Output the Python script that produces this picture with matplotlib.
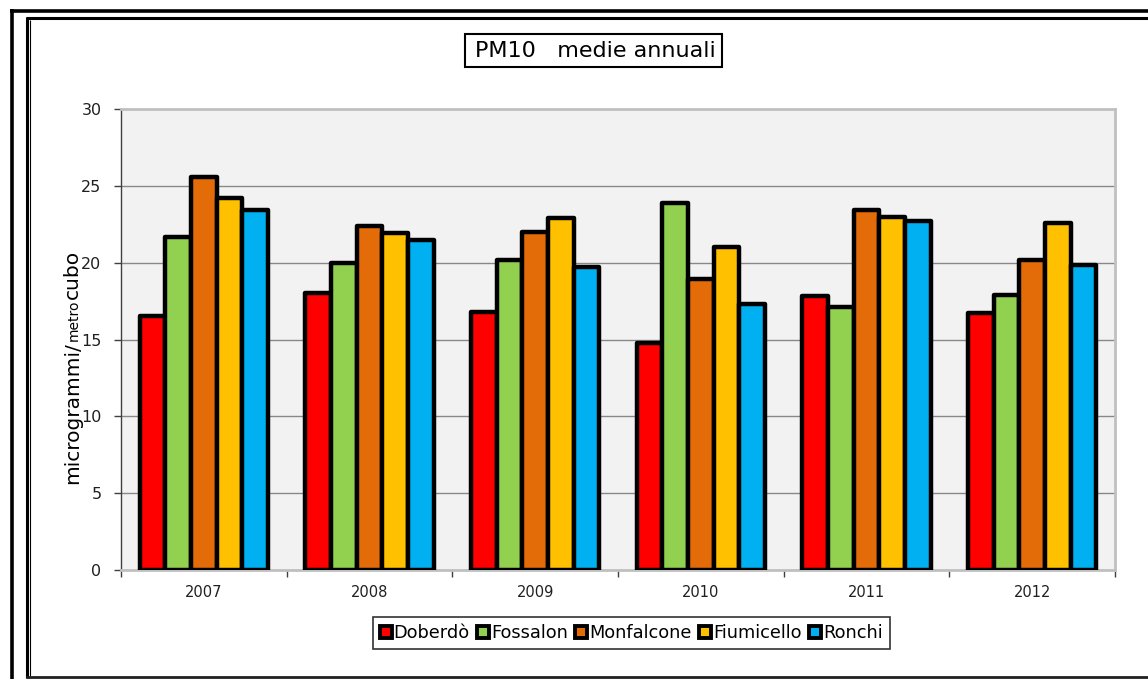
import matplotlib
matplotlib.use("Agg")
import matplotlib.pyplot as plt
import numpy as np
from matplotlib.lines import Line2D
from matplotlib.patches import Rectangle

W, H = 1148, 679

years = ["2007", "2008", "2009", "2010", "2011", "2012"]
stations = ["Doberdò", "Fossalon", "Monfalcone", "Fiumicello", "Ronchi"]
doberdo = [16.5, 18.0, 16.8, 14.8, 17.85, 16.75]
fossalon = [21.65, 20.0, 20.2, 23.9, 17.1, 17.9]
monfalcone = [25.55, 22.4, 22.0, 18.95, 23.4, 20.2]
fiumicello = [24.2, 21.95, 22.9, 21.0, 23.0, 22.6]
ronchi = [23.4, 21.5, 19.7, 17.3, 22.7, 19.85]
series = [doberdo, fossalon, monfalcone, fiumicello, ronchi]
colors = ["#ff0000", "#92d050", "#e36c09", "#ffc000", "#00b0f0"]
yticks = [0, 5, 10, 15, 20, 25, 30]

plt.rcParams["font.family"] = ["DejaVu Sans"]

fig = plt.figure(figsize=(W / 100, H / 100), dpi=100)
fig.patch.set_facecolor("white")


def fx(x):
    return x / W


def fy(y):
    return 1 - y / H


# plot area
ax = fig.add_axes([fx(121), fy(570), (1115 - 121) / W, (570 - 109) / H])
ax.set_facecolor("#f2f2f2")

n = len(years)
x = np.arange(n)
bw = 0.155
for i, (vals, col) in enumerate(zip(series, colors)):
    bars = ax.bar(x + (i - 2) * bw, vals, width=bw, color=col,
                  edgecolor="black", linewidth=3.2, zorder=3)
    for b in bars:
        b.set_joinstyle("round")

ax.set_xlim(-0.5, n - 0.5)
ax.set_ylim(0, 30)
ax.set_yticks(yticks)
ax.set_yticklabels([str(t) for t in yticks], fontsize=11.5, color="#202020")
ax.set_xticks(x)
ax.set_xticklabels(years, fontsize=10.5, color="#202020")
ax.tick_params(axis="x", length=0, pad=11)
ax.set_xticks(np.arange(n + 1) - 0.5, minor=True)
ax.tick_params(axis="x", which="minor", length=5, width=1, color="#404040", direction="out")
ax.tick_params(axis="y", length=5, width=1, color="#404040", direction="out", pad=9)

ax.grid(axis="y", color="#888888", linewidth=1.0, zorder=1)
ax.set_axisbelow(True)
for side in ("top", "right"):
    ax.spines[side].set_color("#c0c0c0")
    ax.spines[side].set_linewidth(2)
ax.spines["bottom"].set_color("#c0c0c0")
ax.spines["bottom"].set_linewidth(2)
ax.spines["left"].set_color("#404040")
ax.spines["left"].set_linewidth(1)

# y-axis label with mixed text sizes
fig.canvas.draw()
renderer = fig.canvas.get_renderer()
parts = [("microgrammi/", 14.5), ("metro", 10), ("cubo", 14.5)]
ypos = 484
for txt, fs in parts:
    t = fig.text(fx(78), fy(ypos), txt, fontsize=fs, rotation=90,
                 rotation_mode="anchor", ha="left", va="baseline")
    bb = t.get_window_extent(renderer)
    ypos -= bb.height + 1

# title box
fig.patches.append(Rectangle((fx(465), fy(67)), (722 - 465) / W, (67 - 34) / H,
                             transform=fig.transFigure, facecolor="white",
                             edgecolor="black", linewidth=1.5))
fig.text(fx(595), fy(51), "PM10   medie annuali", fontsize=16,
         ha="center", va="center")

# legend
handles = [Line2D([], [], linestyle="none", marker="s", markersize=9,
                  markerfacecolor=c, markeredgecolor="black", markeredgewidth=2.8)
           for c in colors]
leg = fig.legend(handles, stations, loc="center", ncol=5,
                 bbox_to_anchor=(fx(631.5), fy(633)), fontsize=12.8,
                 frameon=True, fancybox=False, handlelength=0.6,
                 handletextpad=0.15, columnspacing=0.45, borderpad=0.4,
                 borderaxespad=0)
leg.get_frame().set_edgecolor("black")
leg.get_frame().set_linewidth(1.2)

# outer frame lines
def hline(y, x0, x1, lw, col="black"):
    fig.add_artist(Line2D([fx(x0), fx(x1)], [fy(y), fy(y)], color=col,
                          linewidth=lw, transform=fig.transFigure,
                          solid_capstyle="butt"))


def vline(x0, y0, y1, lw, col="black"):
    fig.add_artist(Line2D([fx(x0), fx(x0)], [fy(y0), fy(y1)], color=col,
                          linewidth=lw, transform=fig.transFigure,
                          solid_capstyle="butt"))


hline(10.5, 10, W + 5, 2.6)
vline(11.5, 9, H + 5, 2.6)
hline(17.8, 26, W + 5, 2.2)
vline(27.3, 16.5, 678, 2.2)
vline(30.3, 20, 676, 0.8)
hline(677, 26, W + 5, 2.0, "#202020")

fig.savefig("out.png", dpi=100, facecolor="white")
